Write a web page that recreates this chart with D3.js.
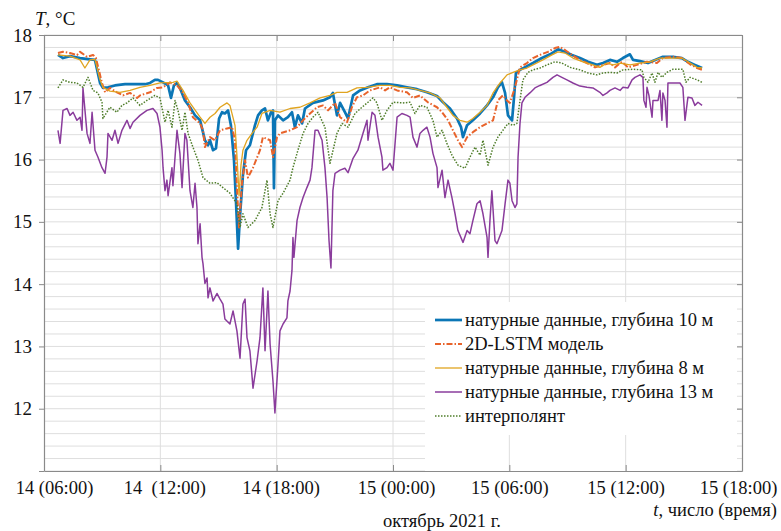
<!DOCTYPE html>
<html>
<head>
<meta charset="utf-8">
<script src="https://cdn.jsdelivr.net/npm/d3@7"></script>
<style>
  html, body { margin: 0; padding: 0; background: #fff; }
  svg { display: block; }
</style>
</head>
<body>
<svg id="chart" width="781" height="531"></svg>
<script>
// Time axis: hours since 14 October 2021, 00:00
const hourTicks = [6, 12, 18, 24, 30, 36, 42];
const hourLabels = ["14 (06:00)", "14  (12:00)", "14 (18:00)", "15 (00:00)", "15 (06:00)", "15 (12:00)", "15 (18:00)"];
const tempTicks = [11, 12, 13, 14, 15, 16, 17, 18];

// Measured temperature, depth 10 m: [hour, °C]
const depth10 = [
  [6.72,17.68],[6.98,17.63],[7.34,17.66],[7.86,17.63],[8.37,17.61],[8.63,17.60],[8.89,17.23],[9.04,17.15],
  [9.30,17.16],[9.66,17.19],[10.18,17.21],[10.69,17.21],[11.21,17.21],[11.47,17.23],[11.72,17.28],[11.88,17.28],
  [12.14,17.24],[12.40,17.19],[12.55,16.99],[12.70,17.19],[12.86,17.23],[13.01,17.15],[13.27,16.95],[13.53,16.84],
  [13.79,16.71],[14.05,16.63],[14.30,16.31],[14.46,16.23],[14.56,16.31],[14.72,16.15],[14.87,16.18],[15.03,16.66],
  [15.18,16.76],[15.33,16.74],[15.49,16.79],[15.64,16.55],[15.80,15.99],[15.90,15.34],[16.01,14.57],[16.11,15.10],
  [16.26,15.75],[16.42,16.15],[16.62,16.23],[16.88,16.55],[17.04,16.71],[17.24,16.79],[17.40,16.82],[17.55,16.63],
  [17.71,16.76],[17.81,16.79],[17.86,15.54],[17.91,16.63],[18.07,16.71],[18.33,16.63],[18.58,16.68],[18.79,16.76],
  [18.94,16.52],[19.10,16.71],[19.31,16.58],[19.46,16.82],[19.87,16.91],[20.39,16.95],[20.75,17.00],[20.90,17.07],
  [21.11,16.71],[21.27,16.91],[21.52,16.76],[21.68,16.66],[21.94,17.03],[22.30,17.11],[22.71,17.16],[23.17,17.21],
  [23.69,17.21],[24.21,17.19],[24.72,17.16],[25.24,17.13],[25.75,17.08],[26.27,17.02],[26.58,16.92],[26.94,16.82],
  [27.30,16.66],[27.51,16.52],[27.61,16.36],[27.82,16.55],[28.12,16.63],[28.49,16.74],[28.85,16.87],[29.16,17.00],
  [29.41,17.16],[29.62,17.24],[29.78,17.07],[29.93,16.71],[30.14,16.63],[30.24,16.99],[30.34,17.39],[30.55,17.44],
  [30.91,17.50],[31.22,17.55],[31.68,17.63],[32.10,17.69],[32.51,17.77],[32.87,17.73],[33.23,17.68],[33.64,17.63],
  [34.06,17.57],[34.52,17.52],[34.83,17.55],[35.19,17.60],[35.55,17.57],[35.86,17.63],[36.22,17.69],[36.38,17.60],
  [36.74,17.58],[37.15,17.55],[37.61,17.61],[37.92,17.65],[38.44,17.65],[38.90,17.63],[39.21,17.57],[39.57,17.52],
  [39.94,17.47]
];

// 2D-LSTM model output
const lstm2d = [
  [6.72,17.71],[6.98,17.73],[7.34,17.71],[7.70,17.68],[7.86,17.73],[8.22,17.65],[8.53,17.68],[8.68,17.63],
  [8.99,17.23],[9.15,17.08],[9.40,17.15],[9.76,17.08],[10.07,17.03],[10.44,17.07],[10.80,16.99],[10.95,17.03],
  [11.47,17.08],[11.83,17.15],[12.14,17.16],[12.50,17.24],[12.86,17.19],[13.17,17.07],[13.43,16.91],[13.68,16.68],
  [14.05,16.58],[14.20,16.47],[14.30,16.20],[14.56,16.36],[14.82,16.31],[15.08,16.47],[15.44,16.50],[15.70,16.52],
  [15.85,16.31],[15.95,15.55],[16.06,14.91],[16.21,15.62],[16.37,15.99],[16.52,15.71],[16.78,15.87],[17.14,16.15],
  [17.29,16.36],[17.66,16.31],[17.81,16.04],[18.02,16.36],[18.17,16.42],[18.69,16.47],[19.05,16.52],[19.36,16.63],
  [19.72,16.74],[20.08,16.84],[20.39,16.87],[20.65,16.79],[21.01,16.91],[21.27,16.68],[21.63,16.60],[21.88,16.84],
  [22.14,17.00],[22.45,17.03],[22.81,17.11],[23.33,17.16],[23.59,17.11],[23.84,17.16],[24.21,17.11],[24.72,17.08],
  [25.03,16.99],[25.39,17.03],[25.80,16.92],[26.27,16.84],[26.53,16.76],[26.84,16.63],[27.09,16.47],[27.35,16.31],
  [27.56,16.20],[27.82,16.36],[28.12,16.44],[28.49,16.52],[28.85,16.58],[29.16,16.63],[29.41,16.95],[29.67,17.03],
  [29.88,16.95],[30.03,16.91],[30.29,17.16],[30.55,17.48],[30.91,17.55],[31.22,17.63],[31.58,17.68],[31.99,17.73],
  [32.35,17.79],[32.61,17.81],[32.87,17.76],[33.23,17.68],[33.64,17.60],[34.00,17.55],[34.42,17.48],[34.83,17.52],
  [35.19,17.55],[35.45,17.48],[35.81,17.57],[36.12,17.48],[36.58,17.52],[37.10,17.57],[37.61,17.55],[37.92,17.63],
  [38.44,17.65],[38.90,17.63],[39.32,17.53],[39.68,17.47],[39.94,17.44]
];

// Measured temperature, depth 8 m
const depth8 = [
  [6.72,17.68],[7.34,17.66],[7.86,17.60],[8.11,17.47],[8.37,17.60],[8.63,17.61],[8.89,17.28],[9.04,17.16],
  [9.40,17.10],[9.92,17.08],[10.44,17.11],[10.95,17.16],[11.47,17.19],[11.98,17.23],[12.65,17.24],[12.86,17.26],
  [13.17,17.11],[13.53,16.91],[14.05,16.68],[14.30,16.58],[14.56,16.68],[14.82,16.74],[15.08,16.84],[15.44,16.91],
  [15.59,16.87],[15.85,16.55],[15.95,16.07],[16.06,15.42],[16.16,15.91],[16.26,16.15],[16.47,16.31],[16.73,16.42],
  [16.99,16.52],[17.24,16.74],[17.66,16.79],[18.17,16.76],[18.69,16.82],[19.20,16.84],[19.72,16.91],[20.24,16.99],
  [20.75,17.03],[21.11,17.08],[21.63,17.08],[22.14,17.15],[22.66,17.16],[23.33,17.19],[23.84,17.19],[24.36,17.16],
  [24.88,17.15],[25.39,17.11],[25.91,17.07],[26.42,16.99],[26.78,16.84],[27.09,16.71],[27.45,16.63],[27.82,16.60],
  [28.12,16.66],[28.49,16.76],[28.85,16.87],[29.16,17.07],[29.52,17.23],[29.88,17.36],[30.19,17.40],[30.55,17.44],
  [30.91,17.47],[31.22,17.52],[31.73,17.60],[32.20,17.68],[32.51,17.73],[32.87,17.71],[33.28,17.63],[33.80,17.57],
  [34.31,17.52],[34.67,17.48],[35.04,17.55],[35.35,17.52],[35.71,17.55],[36.22,17.52],[36.74,17.55],[37.25,17.57],
  [37.77,17.63],[38.44,17.63],[38.90,17.63],[39.32,17.55],[39.68,17.48],[39.94,17.47]
];

// Measured temperature, depth 13 m
const depth13 = [
  [6.72,16.47],[6.83,16.26],[6.98,16.79],[7.19,16.82],[7.34,16.71],[7.50,16.76],[7.70,16.63],[7.86,16.68],
  [7.96,16.47],[8.01,17.15],[8.22,16.42],[8.37,16.26],[8.48,16.76],[8.63,16.15],[8.78,16.04],[8.99,15.87],
  [9.15,15.78],[9.25,16.04],[9.30,16.42],[9.51,16.31],[9.66,16.47],[9.82,16.26],[10.02,16.47],[10.28,16.63],
  [10.44,16.50],[10.59,16.60],[10.95,16.71],[11.31,16.79],[11.62,16.82],[11.83,16.74],[11.98,16.52],[12.09,16.15],
  [12.14,15.87],[12.24,15.50],[12.34,15.67],[12.40,15.42],[12.60,15.87],[12.65,15.58],[12.86,16.47],[13.01,16.10],
  [13.12,15.55],[13.27,16.42],[13.37,16.31],[13.53,15.50],[13.68,15.23],[13.79,15.62],[13.89,15.23],[13.94,14.65],
  [14.05,14.97],[14.15,14.43],[14.20,14.33],[14.30,14.01],[14.41,14.10],[14.46,13.78],[14.56,13.94],[14.72,13.73],
  [14.92,13.85],[15.08,13.76],[15.23,13.68],[15.33,13.44],[15.59,13.36],[15.75,13.57],[15.95,13.25],[16.11,12.81],
  [16.26,13.68],[16.37,13.76],[16.47,13.14],[16.62,12.93],[16.78,12.33],[16.99,12.77],[17.14,13.14],[17.29,13.94],
  [17.40,12.93],[17.55,13.89],[17.66,13.04],[17.81,12.44],[17.91,11.93],[18.07,12.72],[18.17,13.25],[18.33,13.36],
  [18.53,13.46],[18.58,13.73],[18.69,13.89],[18.79,14.22],[18.84,14.75],[18.89,14.43],[19.05,15.02],[19.20,15.23],
  [19.36,15.39],[19.56,15.55],[19.72,15.67],[19.82,15.87],[19.98,16.47],[20.13,16.47],[20.34,16.31],[20.49,15.87],
  [20.60,15.39],[20.70,14.70],[20.80,14.26],[20.90,15.50],[21.01,15.78],[21.27,15.83],[21.52,15.86],[21.68,15.79],
  [21.94,16.02],[22.19,16.15],[22.45,16.42],[22.66,16.63],[22.71,16.31],[22.92,16.76],[23.07,16.71],[23.23,16.36],
  [23.43,16.04],[23.48,15.83],[23.69,15.87],[23.84,15.94],[24.00,15.83],[24.21,16.68],[24.46,16.74],[24.72,16.71],
  [24.88,16.68],[25.03,16.36],[25.24,16.20],[25.39,16.42],[25.55,16.47],[25.75,16.52],[25.91,16.36],[26.06,16.10],
  [26.27,15.87],[26.32,15.55],[26.53,15.83],[26.68,15.39],[26.84,15.67],[27.04,15.39],[27.20,15.13],[27.35,14.86],
  [27.61,14.67],[27.82,14.86],[27.97,14.81],[28.12,15.02],[28.33,15.29],[28.49,15.34],[28.64,15.13],[28.85,14.75],
  [28.90,14.43],[29.00,15.02],[29.10,15.50],[29.26,14.70],[29.36,14.65],[29.62,14.86],[29.78,15.29],[29.93,15.67],
  [30.03,15.62],[30.14,15.34],[30.29,15.23],[30.39,15.29],[30.45,16.04],[30.55,16.58],[30.65,16.91],[30.81,17.00],
  [31.06,17.07],[31.32,17.15],[31.58,17.19],[31.94,17.24],[32.25,17.32],[32.46,17.36],[32.71,17.32],[32.97,17.28],
  [33.28,17.23],[33.64,17.18],[34.00,17.16],[34.31,17.15],[34.67,17.08],[34.83,17.03],[35.04,17.07],[35.19,17.11],
  [35.45,17.15],[35.71,17.11],[35.86,17.16],[36.12,17.15],[36.33,17.28],[36.48,17.32],[36.74,17.36],[36.89,17.32],
  [36.94,16.95],[37.05,16.84],[37.10,17.16],[37.20,17.03],[37.36,16.68],[37.41,16.95],[37.67,16.95],[37.77,17.11],
  [37.87,16.63],[37.92,17.07],[38.03,16.95],[38.13,16.52],[38.18,17.23],[38.44,17.23],[38.80,17.23],[38.95,17.16],
  [39.06,16.63],[39.21,17.00],[39.42,16.99],[39.57,16.87],[39.73,16.92],[39.94,16.87]
];

// Interpolant between measurement depths
const interpolant = [
  [6.72,17.15],[6.98,17.28],[7.34,17.24],[7.70,17.23],[8.01,17.16],[8.27,17.32],[8.53,17.11],[8.78,17.07],
  [8.99,16.92],[9.04,16.66],[9.40,16.84],[9.76,16.76],[10.02,16.87],[10.28,16.91],[10.59,16.99],[10.95,16.87],
  [11.31,16.95],[11.72,17.03],[11.98,16.99],[12.24,16.60],[12.40,16.79],[12.60,16.52],[12.76,16.95],[12.91,16.79],
  [13.12,16.47],[13.27,16.76],[13.43,16.42],[13.68,16.20],[13.94,15.99],[14.20,15.71],[14.56,15.62],[14.92,15.63],
  [15.23,15.55],[15.59,15.46],[15.95,15.29],[16.11,14.91],[16.26,15.13],[16.52,14.91],[16.88,15.02],[17.24,15.23],
  [17.50,15.67],[17.66,15.13],[17.81,14.91],[18.07,15.34],[18.33,15.46],[18.69,15.67],[18.84,15.87],[19.05,16.10],
  [19.36,16.42],[19.62,16.58],[19.87,16.68],[20.13,16.76],[20.49,16.52],[20.75,15.94],[21.11,16.42],[21.37,16.58],
  [21.68,16.52],[22.04,16.74],[22.40,16.84],[22.71,16.92],[22.97,16.99],[23.17,16.91],[23.43,16.63],[23.69,16.79],
  [24.00,16.92],[24.51,16.91],[24.88,16.92],[25.13,16.74],[25.39,16.87],[25.75,16.84],[26.06,16.63],[26.27,16.36],
  [26.53,16.47],[26.78,16.26],[27.04,16.07],[27.35,15.91],[27.71,15.86],[27.97,16.04],[28.23,16.20],[28.49,16.07],
  [28.64,16.31],[28.90,15.91],[29.16,16.20],[29.41,16.36],[29.67,16.47],[29.93,16.58],[30.19,16.55],[30.39,16.58],
  [30.55,16.95],[30.70,17.28],[30.96,17.40],[31.22,17.44],[31.58,17.47],[31.94,17.52],[32.35,17.57],[32.71,17.55],
  [33.13,17.48],[33.64,17.44],[34.06,17.39],[34.52,17.36],[34.83,17.39],[35.19,17.40],[35.55,17.39],[35.86,17.44],
  [36.38,17.45],[36.84,17.44],[36.94,17.32],[37.15,17.24],[37.36,17.39],[37.51,17.24],[37.67,17.40],[37.87,17.32],
  [38.13,17.40],[38.44,17.45],[38.95,17.45],[39.11,17.24],[39.32,17.32],[39.68,17.28],[39.94,17.24]
];

const seriesList = [
  { name: "натурные данные, глубина 10 м", data: depth10, color: "#0b76b6", width: 2.7, dash: null },
  { name: "2D-LSTM модель", data: lstm2d, color: "#e8632b", width: 2.0, dash: "6,2,1.5,2" },
  { name: "натурные данные, глубина 8 м", data: depth8, color: "#e0a420", width: 1.3, dash: null },
  { name: "натурные данные, глубина 13 м", data: depth13, color: "#8a3c9c", width: 1.5, dash: null },
  { name: "интерполянт", data: interpolant, color: "#4f7d2a", width: 1.5, dash: "1.5,1.5" }
];

const FONT = "'Liberation Serif', 'DejaVu Serif', 'Times New Roman', serif";
const svg = d3.select("#chart").attr("font-family", FONT);
const plotLeft = 44, plotRight = 742, plotTop = 35, plotBottom = 471;
const x = d3.scaleLinear().domain([6, 42]).range([plotLeft, plotRight]);
const y = d3.scaleLinear().domain([11, 18]).range([plotBottom, plotTop]);

const gridColor = "#dedede";
const frameColor = "#8a8a8a";

function label(sel, size) {
  return sel.style("font-family", FONT).style("font-size", size + "px").attr("fill", "#111");
}

// horizontal grid every 0.2 °C
const minorTemps = d3.range(0, 36).map(i => 11 + i * 0.2);
svg.append("g").selectAll("line").data(minorTemps).join("line")
  .attr("x1", plotLeft).attr("x2", plotRight)
  .attr("y1", d => y(d)).attr("y2", d => y(d))
  .attr("stroke", gridColor).attr("stroke-width", 1);

// vertical grid at time ticks
svg.append("g").selectAll("line").data(hourTicks.slice(1, -1)).join("line")
  .attr("x1", d => x(d)).attr("x2", d => x(d))
  .attr("y1", plotTop).attr("y2", plotBottom)
  .attr("stroke", gridColor).attr("stroke-width", 1);

// data lines
svg.append("clipPath").attr("id", "plotClip").append("rect")
  .attr("x", plotLeft).attr("y", plotTop)
  .attr("width", plotRight - plotLeft).attr("height", plotBottom - plotTop);
const line = d3.line().x(d => x(d[0])).y(d => y(d[1]));
const plot = svg.append("g").attr("clip-path", "url(#plotClip)");
seriesList.forEach(s => {
  plot.append("path").datum(s.data)
    .attr("d", line)
    .attr("fill", "none")
    .attr("stroke", s.color)
    .attr("stroke-width", s.width)
    .attr("stroke-linejoin", "round")
    .attr("stroke-dasharray", s.dash);
});

// legend panel
const legendBox = { x: 425, y: 302, w: 312, h: plotBottom - 302 };
svg.append("rect")
  .attr("x", legendBox.x).attr("y", legendBox.y)
  .attr("width", legendBox.w).attr("height", legendBox.h)
  .attr("fill", "#fff");
// vertical grid visible below the legend entries
svg.append("g").selectAll("line")
  .data(hourTicks.filter(d => x(d) > legendBox.x && x(d) < legendBox.x + legendBox.w))
  .join("line")
  .attr("x1", d => x(d)).attr("x2", d => x(d))
  .attr("y1", 435).attr("y2", plotBottom)
  .attr("stroke", gridColor).attr("stroke-width", 1);

const legend = svg.append("g").attr("transform", "translate(435,320)");
seriesList.forEach((s, i) => {
  const row = legend.append("g").attr("transform", `translate(0,${i * 24})`);
  row.append("line").attr("x1", 0).attr("x2", 27).attr("y1", 0).attr("y2", 0)
    .attr("stroke", s.color).attr("stroke-width", s.width)
    .attr("stroke-dasharray", s.dash);
  label(row.append("text").attr("x", 30).attr("y", 0).attr("dy", "0.35em"), 18.5).text(s.name);
});

// frame and axes
function styleAxis(g) {
  g.attr("font-family", FONT);
  g.select(".domain").attr("stroke", frameColor).attr("stroke-width", 1.2);
  g.selectAll(".tick line").attr("stroke", frameColor).attr("stroke-width", 1);
}
const labelShift = [10, 4, 4, 3, 0, 0, -4];
const xBottom = svg.append("g").attr("transform", `translate(0,${plotBottom})`)
  .call(d3.axisBottom(x).tickValues(hourTicks).tickFormat((d, i) => hourLabels[i])
    .tickSizeInner(-6).tickSizeOuter(0).tickPadding(10));
styleAxis(xBottom);
label(xBottom.selectAll(".tick text"), 18.5)
  .style("white-space", "pre")
  .attr("dx", (d, i) => labelShift[i]);

const xTop = svg.append("g").attr("transform", `translate(0,${plotTop})`)
  .call(d3.axisTop(x).tickValues(hourTicks).tickFormat("").tickSizeInner(-6).tickSizeOuter(0));
styleAxis(xTop);

const yLeft = svg.append("g").attr("transform", `translate(${plotLeft},0)`)
  .call(d3.axisLeft(y).tickValues(tempTicks).tickFormat(d => d === 11 ? "" : d)
    .tickSizeInner(5).tickSizeOuter(0).tickPadding(7));
styleAxis(yLeft);
label(yLeft.selectAll(".tick text"), 19);

const yRight = svg.append("g").attr("transform", `translate(${plotRight},0)`)
  .call(d3.axisRight(y).tickValues(tempTicks).tickFormat("").tickSizeInner(-5).tickSizeOuter(0));
styleAxis(yRight);

// axis titles
const yTitle = label(svg.append("text").attr("x", 35).attr("y", 25), 19);
yTitle.append("tspan").style("font-style", "italic").text("T");
yTitle.append("tspan").text(", °C");

const xTitle = label(svg.append("text").attr("x", 777).attr("y", 516).attr("text-anchor", "end"), 18.5);
xTitle.append("tspan").style("font-style", "italic").text("t");
xTitle.append("tspan").text(", число (время)");

label(svg.append("text").attr("x", 383).attr("y", 527), 18.5).text("октябрь 2021 г.");
</script>
</body>
</html>
